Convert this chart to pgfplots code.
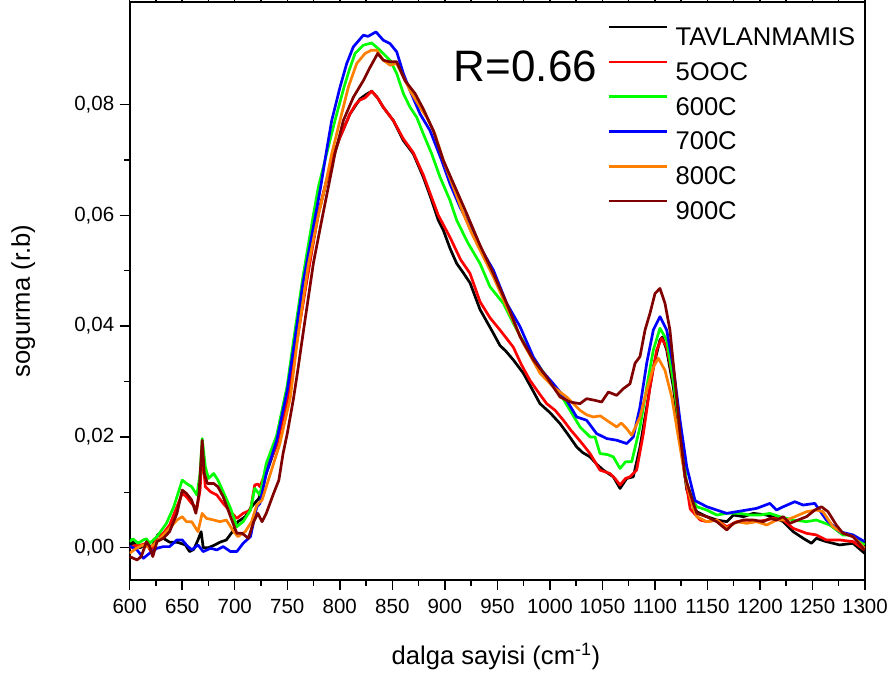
\documentclass[border=0pt]{standalone}
\usepackage{fontspec}
\setmainfont{Liberation Sans}
\usepackage{pgfplots}
\pgfplotsset{compat=1.18}
\definecolor{cgreen}{RGB}{0,255,0}
\definecolor{cblue}{RGB}{0,0,255}
\definecolor{cred}{RGB}{255,0,0}
\definecolor{corange}{RGB}{255,128,0}
\definecolor{cbrown}{RGB}{128,0,0}
\tikzset{curve/.style={line width=2.7pt, line join=round}}
\begin{document}
\begin{tikzpicture}
\begin{axis}[name=ax, scale only axis, width=735.3pt, height=578pt,
  xmin=600, xmax=1300, ymin=-0.00583, ymax=0.0985,
  xtick={600,650,...,1300}, minor x tick num=1,
  ytick={0,0.02,0.04,0.06,0.08}, minor y tick num=1,
  xtick pos=both, ytick pos=left,
  tick align=outside, major tick length=10pt, minor tick length=5.5pt,
  every tick/.style={line width=1.5pt, black},
  axis line style={line width=1.8pt},
  /pgf/number format/assume math mode=true,
  /pgf/number format/1000 sep={},
  scaled y ticks=false,
  yticklabel style={xshift=-2pt, /pgf/number format/.cd, fixed, fixed zerofill, precision=2, use comma},
  ticklabel style={font=\fontsize{20.5}{24}\selectfont},
  xticklabel style={yshift=-5.5pt},
  label style={font=\fontsize{25.6}{30}\selectfont},
  xlabel={dalga sayisi (cm\textsuperscript{-1})},
  ylabel={sogurma (r.b)},
  xlabel style={at={(axis description cs:0.498,-0.1327)}, anchor=center},
  ylabel style={at={(axis description cs:-0.1447,0.4827)}, anchor=center},
  legend cell align=left,
  legend style={draw=none, fill=none, inner sep=0pt, at={(axis description cs:0.6500,0.9593)}, anchor=north west,
    font=\fontsize{25.6}{30}\selectfont, row sep=15pt, column sep=7pt,
    nodes={inner sep=0pt, text height=18.5pt, text depth=0pt}},
  legend image code/.code={\draw[#1] (0pt,9.2pt) -- (58pt,9.2pt);},
]
\addplot[curve, black] coordinates {(600,0.0002)(603,0.0010)(607,0.0003)(610,0.0000)(613,0.0004)(616,0.0008)(621,0.0000)(624,0.0014)(627,0.0024)(632,0.0017)(638,0.0010)(645,0.0010)(650,0.0007)(653,0.0005)(657,-0.0007)(661,-0.0003)(665,0.0014)(668,0.0029)(670,0.0000)(675,0.0000)(681,0.0005)(686,0.0010)(692,0.0014)(699,0.0032)(703,0.0047)(710,0.0056)(716,0.0074)(723,0.0089)(730,0.0134)(740,0.0188)(750,0.0272)(756,0.0340)(762,0.0410)(768,0.0480)(774,0.0545)(779.6,0.0603)(785.9,0.0651)(792.3,0.0699)(800.2,0.0741)(809.7,0.0783)(819.2,0.0810)(825,0.0818)(830.4,0.0824)(836,0.0812)(841.4,0.0795)(851,0.0771)(860.5,0.0735)(870,0.0711)(879.5,0.0669)(887.5,0.0627)(893.8,0.0591)(898.6,0.0573)(905,0.0540)(911.3,0.0513)(918,0.0495)(924,0.0478)(933.5,0.0430)(946.2,0.0387)(952.5,0.0365)(958,0.0355)(965.2,0.0339)(974.7,0.0315)(982,0.0290)(990.6,0.0260)(1000,0.0244)(1009.7,0.0224)(1017,0.0205)(1025.5,0.0182)(1031,0.0172)(1038.2,0.0164)(1045,0.0150)(1050.9,0.0140)(1060.4,0.0128)(1066.8,0.0107)(1073.1,0.0125)(1079.4,0.0128)(1085.8,0.0182)(1092.2,0.0254)(1098.5,0.0326)(1104.8,0.0375)(1107,0.0380)(1111.2,0.0357)(1117.5,0.0290)(1123.9,0.0194)(1130.3,0.0105)(1136.6,0.0075)(1139.9,0.0065)(1149.4,0.0056)(1158.9,0.0050)(1168.4,0.0047)(1174.7,0.0059)(1184.2,0.0056)(1193.7,0.0062)(1206.3,0.0059)(1215.8,0.0053)(1222.2,0.0047)(1231.6,0.0029)(1241.1,0.0017)(1249,0.0008)(1253.7,0.0017)(1263.2,0.0011)(1275.9,0.0005)(1288.6,0.0008)(1299.6,-0.0010)};
\addlegendentry{TAVLANMAMIS}
\addplot[curve, cred] coordinates {(600,0.0000)(604,0.0003)(607,0.0005)(611,0.0005)(616,0.0008)(621,-0.0010)(626,0.0020)(632,0.0026)(638,0.0041)(645,0.0074)(650,0.0098)(654,0.0092)(659,0.0080)(664,0.0071)(667,0.0104)(669,0.0176)(672,0.0110)(677,0.0101)(683,0.0095)(689,0.0080)(696,0.0065)(702,0.0053)(708,0.0062)(715,0.0068)(719,0.0113)(722,0.0115)(724,0.0110)(730,0.0140)(740,0.0185)(750,0.0266)(756,0.0335)(762,0.0405)(768,0.0475)(774,0.0542)(779.6,0.0603)(785.9,0.0651)(792.3,0.0699)(800.2,0.0741)(809.7,0.0783)(815,0.0800)(819.2,0.0808)(824,0.0812)(830.4,0.0824)(836,0.0812)(841.4,0.0795)(851,0.0771)(860.5,0.0738)(870,0.0713)(879.5,0.0673)(887.5,0.0632)(893.8,0.0600)(905,0.0560)(915,0.0520)(924,0.0495)(933.5,0.0444)(943,0.0415)(952.5,0.0393)(965.2,0.0362)(973,0.0330)(981.1,0.0302)(990,0.0278)(997,0.0260)(1005,0.0248)(1012.9,0.0230)(1020,0.0212)(1025.5,0.0200)(1032,0.0185)(1038.2,0.0170)(1047.7,0.0140)(1057.2,0.0134)(1062,0.0125)(1066.8,0.0113)(1072,0.0125)(1076.3,0.0128)(1082.6,0.0140)(1089,0.0206)(1095.3,0.0290)(1101.7,0.0357)(1106.4,0.0378)(1111.2,0.0362)(1117.5,0.0302)(1123.9,0.0206)(1130.3,0.0110)(1133.6,0.0070)(1143.1,0.0050)(1149.4,0.0047)(1158.9,0.0050)(1168.4,0.0038)(1177.9,0.0047)(1187.4,0.0050)(1196.8,0.0047)(1206.3,0.0050)(1212.7,0.0053)(1222.2,0.0050)(1231.6,0.0035)(1244.3,0.0026)(1253.7,0.0023)(1263.2,0.0014)(1275.9,0.0014)(1288.6,0.0011)(1299.6,-0.0004)};
\addlegendentry{5OOC}
\addplot[curve, cgreen] coordinates {(600,0.0011)(603,0.0016)(608,0.0008)(613,0.0014)(616,0.0016)(619,0.0008)(626,0.0020)(635,0.0044)(642,0.0074)(650,0.0122)(654,0.0116)(659,0.0110)(664,0.0095)(667,0.0134)(669,0.0197)(672,0.0146)(675,0.0125)(680,0.0134)(684,0.0122)(689,0.0101)(696,0.0071)(702,0.0038)(708,0.0047)(715,0.0068)(719,0.0107)(724,0.0095)(730,0.0152)(740,0.0203)(750,0.0293)(756,0.0374)(765,0.0490)(774.8,0.0600)(779.6,0.0651)(787.5,0.0711)(795.4,0.0771)(804,0.0831)(809,0.0862)(814.5,0.0892)(822.4,0.0907)(830.4,0.0911)(838.3,0.0898)(847.8,0.0880)(854.2,0.0856)(860.5,0.0820)(866.9,0.0795)(873.2,0.0777)(879.5,0.0747)(887.5,0.0711)(895.4,0.0669)(904.9,0.0627)(911.3,0.0591)(922,0.0550)(933.5,0.0513)(943,0.0471)(955.7,0.0441)(965.2,0.0405)(973,0.0378)(981.1,0.0351)(997,0.0308)(1009.7,0.0278)(1019.2,0.0248)(1028.7,0.0218)(1038.2,0.0200)(1043,0.0200)(1047.7,0.0170)(1055,0.0168)(1060.4,0.0164)(1066.8,0.0143)(1072,0.0155)(1077.9,0.0155)(1085.8,0.0218)(1092.2,0.0290)(1098.5,0.0357)(1104.8,0.0396)(1111.2,0.0375)(1117.5,0.0302)(1123.9,0.0212)(1130.3,0.0115)(1136.6,0.0085)(1139.9,0.0074)(1149.4,0.0068)(1158.9,0.0059)(1168.4,0.0062)(1181,0.0062)(1190.5,0.0059)(1200,0.0059)(1209.5,0.0062)(1219,0.0056)(1231.6,0.0050)(1244.3,0.0047)(1253.7,0.0050)(1266.4,0.0041)(1279,0.0023)(1288.6,0.0023)(1299.6,0.0005)};
\addlegendentry{600C}
\addplot[curve, cblue] coordinates {(600,0.0003)(607,-0.0004)(613,-0.0019)(619,-0.0010)(626,-0.0001)(632,0.0002)(638,0.0002)(645,0.0014)(650,0.0014)(654,0.0005)(659,-0.0004)(665,0.0005)(670,-0.0007)(677,-0.0001)(683,-0.0004)(689,0.0002)(696,-0.0007)(702,-0.0007)(708,0.0008)(715,0.0020)(721,0.0074)(724,0.0080)(730,0.0134)(740,0.0194)(750,0.0284)(756,0.0360)(765,0.0478)(776,0.0591)(781.8,0.0651)(786.9,0.0711)(792.3,0.0771)(800.2,0.0831)(806.6,0.0874)(812.9,0.0904)(822.4,0.0925)(826.9,0.0923)(834.5,0.0931)(841.4,0.0916)(847.8,0.0910)(854.2,0.0895)(860.5,0.0856)(866.9,0.0825)(876.4,0.0783)(885.9,0.0753)(897,0.0699)(904.9,0.0657)(914.4,0.0615)(924,0.0580)(933.5,0.0543)(946.2,0.0501)(958.9,0.0441)(971.6,0.0399)(984.3,0.0344)(993,0.0318)(1003.3,0.0296)(1016,0.0266)(1025.5,0.0236)(1035,0.0230)(1044.5,0.0206)(1054.1,0.0197)(1063.6,0.0194)(1073.1,0.0188)(1079.4,0.0200)(1085.8,0.0254)(1092.2,0.0333)(1098.5,0.0393)(1104.8,0.0417)(1111.2,0.0393)(1117.5,0.0326)(1123.9,0.0230)(1130.3,0.0146)(1138.2,0.0085)(1149.4,0.0074)(1158.9,0.0068)(1168.4,0.0062)(1177.9,0.0065)(1187.4,0.0068)(1196.8,0.0071)(1209.5,0.0080)(1215.8,0.0068)(1222.2,0.0074)(1233.2,0.0083)(1241.1,0.0077)(1252.2,0.0080)(1263.2,0.0050)(1275.9,0.0029)(1288.6,0.0023)(1299.6,0.0011)};
\addlegendentry{700C}
\addplot[curve, corange] coordinates {(600,-0.0010)(607,0.0000)(613,0.0005)(619,0.0000)(626,0.0011)(632,0.0023)(638,0.0035)(645,0.0050)(650,0.0056)(654,0.0047)(659,0.0047)(665,0.0029)(669,0.0062)(673,0.0053)(680,0.0050)(686,0.0047)(692,0.0050)(699,0.0029)(703,0.0020)(710,0.0029)(716,0.0047)(721,0.0077)(726,0.0086)(734,0.0134)(743,0.0188)(753,0.0272)(760.5,0.0387)(770,0.0510)(779.6,0.0600)(785.9,0.0651)(792.3,0.0711)(800.2,0.0771)(808.1,0.0831)(816.1,0.0874)(824,0.0892)(830,0.0898)(835.1,0.0898)(841.4,0.0880)(847.8,0.0871)(854.2,0.0874)(860.5,0.0850)(866.9,0.0825)(876.4,0.0795)(882.7,0.0777)(890.6,0.0747)(898.6,0.0699)(908.1,0.0651)(917.6,0.0603)(925,0.0570)(933.5,0.0537)(946.2,0.0489)(958.9,0.0435)(974.7,0.0369)(990.6,0.0315)(1003.3,0.0290)(1016,0.0272)(1028.7,0.0248)(1035,0.0240)(1041.4,0.0236)(1048,0.0238)(1054.1,0.0230)(1063.6,0.0218)(1068,0.0225)(1073.1,0.0215)(1077.9,0.0203)(1085.8,0.0236)(1092.2,0.0284)(1098.5,0.0326)(1103.3,0.0342)(1109.6,0.0320)(1116,0.0272)(1122.3,0.0200)(1128.7,0.0128)(1135,0.0080)(1139.9,0.0056)(1149.4,0.0047)(1158.9,0.0050)(1168.4,0.0035)(1177.9,0.0047)(1187.4,0.0044)(1196.8,0.0047)(1206.3,0.0041)(1215.8,0.0050)(1225.3,0.0050)(1233.2,0.0056)(1244.3,0.0065)(1253.7,0.0068)(1260,0.0065)(1269.5,0.0038)(1279,0.0026)(1288.6,0.0020)(1299.6,-0.0001)};
\addlegendentry{800C}
\addplot[curve, cbrown] coordinates {(600,-0.0016)(607,-0.0022)(611,-0.0016)(616,0.0011)(619,0.0002)(622,-0.0016)(626,0.0011)(632,0.0017)(638,0.0029)(645,0.0062)(650,0.0104)(654,0.0098)(659,0.0086)(663,0.0062)(666,0.0098)(669,0.0194)(671,0.0134)(674,0.0116)(680,0.0116)(684,0.0110)(689,0.0092)(696,0.0056)(702,0.0026)(707,0.0026)(713,0.0017)(718,0.0047)(722,0.0062)(726,0.0047)(730,0.0062)(737,0.0098)(742,0.0122)(746,0.0170)(750,0.0206)(756,0.0270)(760,0.0320)(765.3,0.0390)(775,0.0515)(782.8,0.0591)(789.1,0.0651)(795.4,0.0711)(803.4,0.0771)(812.9,0.0813)(822.4,0.0843)(828.8,0.0867)(836.1,0.0892)(841.4,0.0880)(847.8,0.0877)(854.2,0.0877)(862.1,0.0843)(871.6,0.0820)(879.5,0.0792)(889,0.0753)(898.6,0.0699)(909.7,0.0651)(920.8,0.0603)(933.5,0.0546)(946.2,0.0495)(958.9,0.0441)(971.6,0.0381)(984.3,0.0339)(997,0.0308)(1009.7,0.0272)(1019.2,0.0263)(1028.7,0.0260)(1035,0.0269)(1043,0.0266)(1049.3,0.0263)(1055.7,0.0281)(1063.6,0.0275)(1069.9,0.0287)(1076.3,0.0296)(1081.1,0.0333)(1085.8,0.0345)(1090.6,0.0393)(1095.3,0.0423)(1100.1,0.0459)(1104.8,0.0468)(1109.6,0.0441)(1114.3,0.0393)(1119.1,0.0302)(1123.9,0.0206)(1128.7,0.0128)(1136.6,0.0080)(1139.9,0.0062)(1149.4,0.0056)(1158.9,0.0047)(1168.4,0.0032)(1174.7,0.0044)(1184.2,0.0050)(1193.7,0.0050)(1203.2,0.0047)(1209.5,0.0053)(1215.8,0.0050)(1222.2,0.0056)(1228.5,0.0044)(1236.4,0.0050)(1244.3,0.0056)(1252.2,0.0068)(1258.5,0.0074)(1264.8,0.0065)(1272.7,0.0041)(1279,0.0026)(1288.6,0.0020)(1299.6,-0.0004)};
\addlegendentry{900C}
\node[anchor=base, font=\fontsize{44}{50}\selectfont, inner sep=0pt] at (axis description cs:0.5383,0.8633) {R=0.66};
\end{axis}
\pgfresetboundingbox
\path ([shift={(-129.7pt,-99pt)}]ax.south west) rectangle ([shift={(27pt,2pt)}]ax.north east);
\end{tikzpicture}
\end{document}
